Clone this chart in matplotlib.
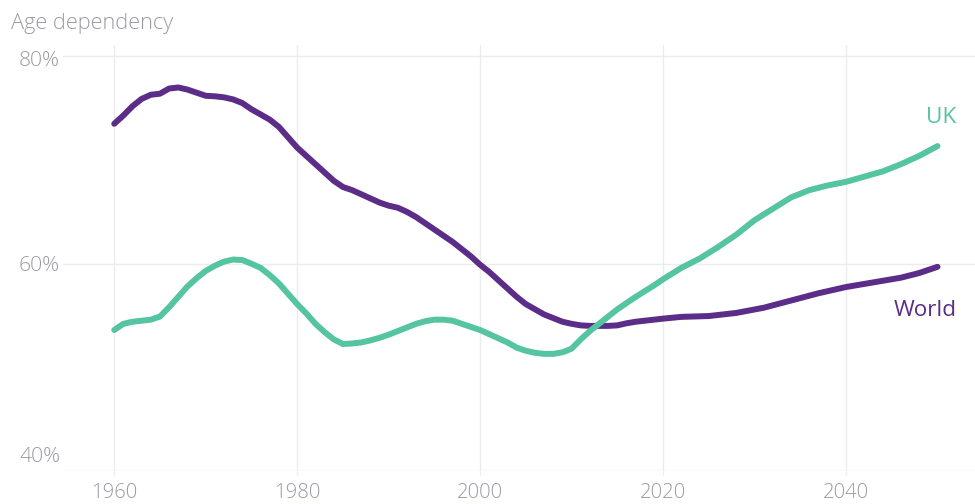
import matplotlib
matplotlib.use("Agg")
import matplotlib.pyplot as plt
import matplotlib.transforms as mtransforms

# Age dependency ratio (% of working-age population)
world_years = [1960, 1961, 1962, 1963, 1964, 1965, 1966, 1967, 1968, 1969,
               1970, 1971, 1972, 1973, 1974, 1975, 1976, 1977, 1978, 1979,
               1980, 1981, 1982, 1983, 1984, 1985, 1986, 1987, 1988, 1989,
               1990, 1991, 1992, 1993, 1994, 1995, 1996, 1997, 1998, 1999,
               2000, 2001, 2002, 2003, 2004, 2005, 2006, 2007, 2008, 2009,
               2010, 2011, 2012, 2013, 2014, 2015, 2016, 2017, 2018, 2019,
               2020, 2022, 2025, 2028, 2031, 2034, 2037, 2040, 2043, 2046,
               2048, 2050]
world_values = [73.5, 74.3, 75.2, 75.9, 76.3, 76.4, 76.9, 77.0, 76.8, 76.5,
                76.2, 76.15, 76.05, 75.85, 75.5, 74.9, 74.4, 73.9, 73.2, 72.2,
                71.2, 70.4, 69.6, 68.8, 68.0, 67.4, 67.1, 66.7, 66.3, 65.9,
                65.6, 65.4, 65.0, 64.5, 63.9, 63.3, 62.7, 62.1, 61.4, 60.7,
                59.9, 59.2, 58.4, 57.6, 56.8, 56.1, 55.6, 55.1, 54.75, 54.4,
                54.2, 54.05, 54.0, 54.0, 54.0, 54.05, 54.25, 54.4, 54.5, 54.6,
                54.7, 54.87, 54.95, 55.25, 55.75, 56.45, 57.15, 57.75, 58.2, 58.65,
                59.1, 59.7]

uk_years = [1960, 1961, 1962, 1963, 1964, 1965, 1966, 1967, 1968, 1969,
            1970, 1971, 1972, 1973, 1974, 1975, 1976, 1977, 1978, 1979,
            1980, 1981, 1982, 1983, 1984, 1985, 1986, 1987, 1988, 1989,
            1990, 1991, 1992, 1993, 1994, 1995, 1996, 1997, 1998, 1999,
            2000, 2001, 2002, 2003, 2004, 2005, 2006, 2007, 2008, 2009,
            2010, 2011, 2012, 2013, 2014, 2015, 2016, 2017, 2018, 2019,
            2020, 2022, 2024, 2026, 2028, 2030, 2032, 2034, 2036, 2038,
            2040, 2042, 2044, 2046, 2048, 2050]
uk_values = [53.6, 54.2, 54.4, 54.5, 54.6, 54.9, 55.8, 56.8, 57.8, 58.6,
             59.3, 59.8, 60.2, 60.4, 60.35, 60.0, 59.6, 58.9, 58.1, 57.1,
             56.1, 55.2, 54.2, 53.4, 52.7, 52.25, 52.3, 52.4, 52.6, 52.85,
             53.15, 53.5, 53.85, 54.2, 54.45, 54.6, 54.6, 54.5, 54.2, 53.9,
             53.6, 53.2, 52.8, 52.4, 51.9, 51.6, 51.4, 51.3, 51.3, 51.45,
             51.8, 52.7, 53.5, 54.2, 54.9, 55.6, 56.2, 56.8, 57.35, 57.9,
             58.5, 59.6, 60.5, 61.6, 62.8, 64.2, 65.3, 66.4, 67.1, 67.55,
             67.9, 68.4, 68.9, 69.6, 70.4, 71.35]

x_ticks = [1960, 1980, 2000, 2020, 2040]
y_ticks = [40, 60, 80]
y_tick_labels = ["40%", "60%", "80%"]

PURPLE = "#5c2d88"
TEAL = "#55c4a0"
TEXT_GREY = "#9a9ba3"
GRID = "#ececec"

plt.rcParams["font.family"] = ["Open Sans", "DejaVu Sans"]

fig = plt.figure(figsize=(9.75, 5.04), dpi=100)
W, H = 975, 504
ax = fig.add_axes([63 / W, (H - 471) / H, 1 - 63 / W, (471 - 45) / H])

ax.plot(world_years, world_values, color=PURPLE, lw=4.3,
        solid_capstyle="round", solid_joinstyle="round", zorder=3)
ax.plot(uk_years, uk_values, color=TEAL, lw=4.3,
        solid_capstyle="round", solid_joinstyle="round", zorder=4)

ax.set_xlim(1954.4, 2054.1)
ax.set_ylim(40, 81.1)

for s in ax.spines.values():
    s.set_visible(False)

ax.set_xticks(x_ticks)
ax.set_xticklabels([str(t) for t in x_ticks], fontsize=14.6,
                   color=TEXT_GREY, fontweight="light")
ax.tick_params(axis="x", length=3, width=1, color=GRID, pad=6)
ax.set_yticks(y_ticks)
ax.set_yticklabels([])
ax.tick_params(axis="y", length=0)
ax.grid(True, color=GRID, lw=1)
ax.set_axisbelow(True)

# y labels drawn beside their gridlines; the bottom one sits above its line
offsets = {40: 10, 60: -1.5, 80: -3}
for val, lab in zip(y_ticks, y_tick_labels):
    tr = mtransforms.offset_copy(
        mtransforms.blended_transform_factory(ax.transAxes, ax.transData),
        fig=fig, x=-2, y=offsets[val], units="points")
    ax.text(0, val, lab, transform=tr, ha="right", va="center",
            fontsize=15.2, color=TEXT_GREY, fontweight="light", clip_on=False)

ax.text(2052.1, 73.6, "UK", color=TEAL, fontsize=16.2, ha="right",
        va="baseline")
ax.text(2052.1, 55.0, "World", color=PURPLE, fontsize=16.2, ha="right",
        va="baseline")

fig.text(11 / W, 1 - 29 / H, "Age dependency", fontsize=15.7,
         color=TEXT_GREY, fontweight="light", ha="left", va="baseline")

fig.savefig("out.png", dpi=100)
